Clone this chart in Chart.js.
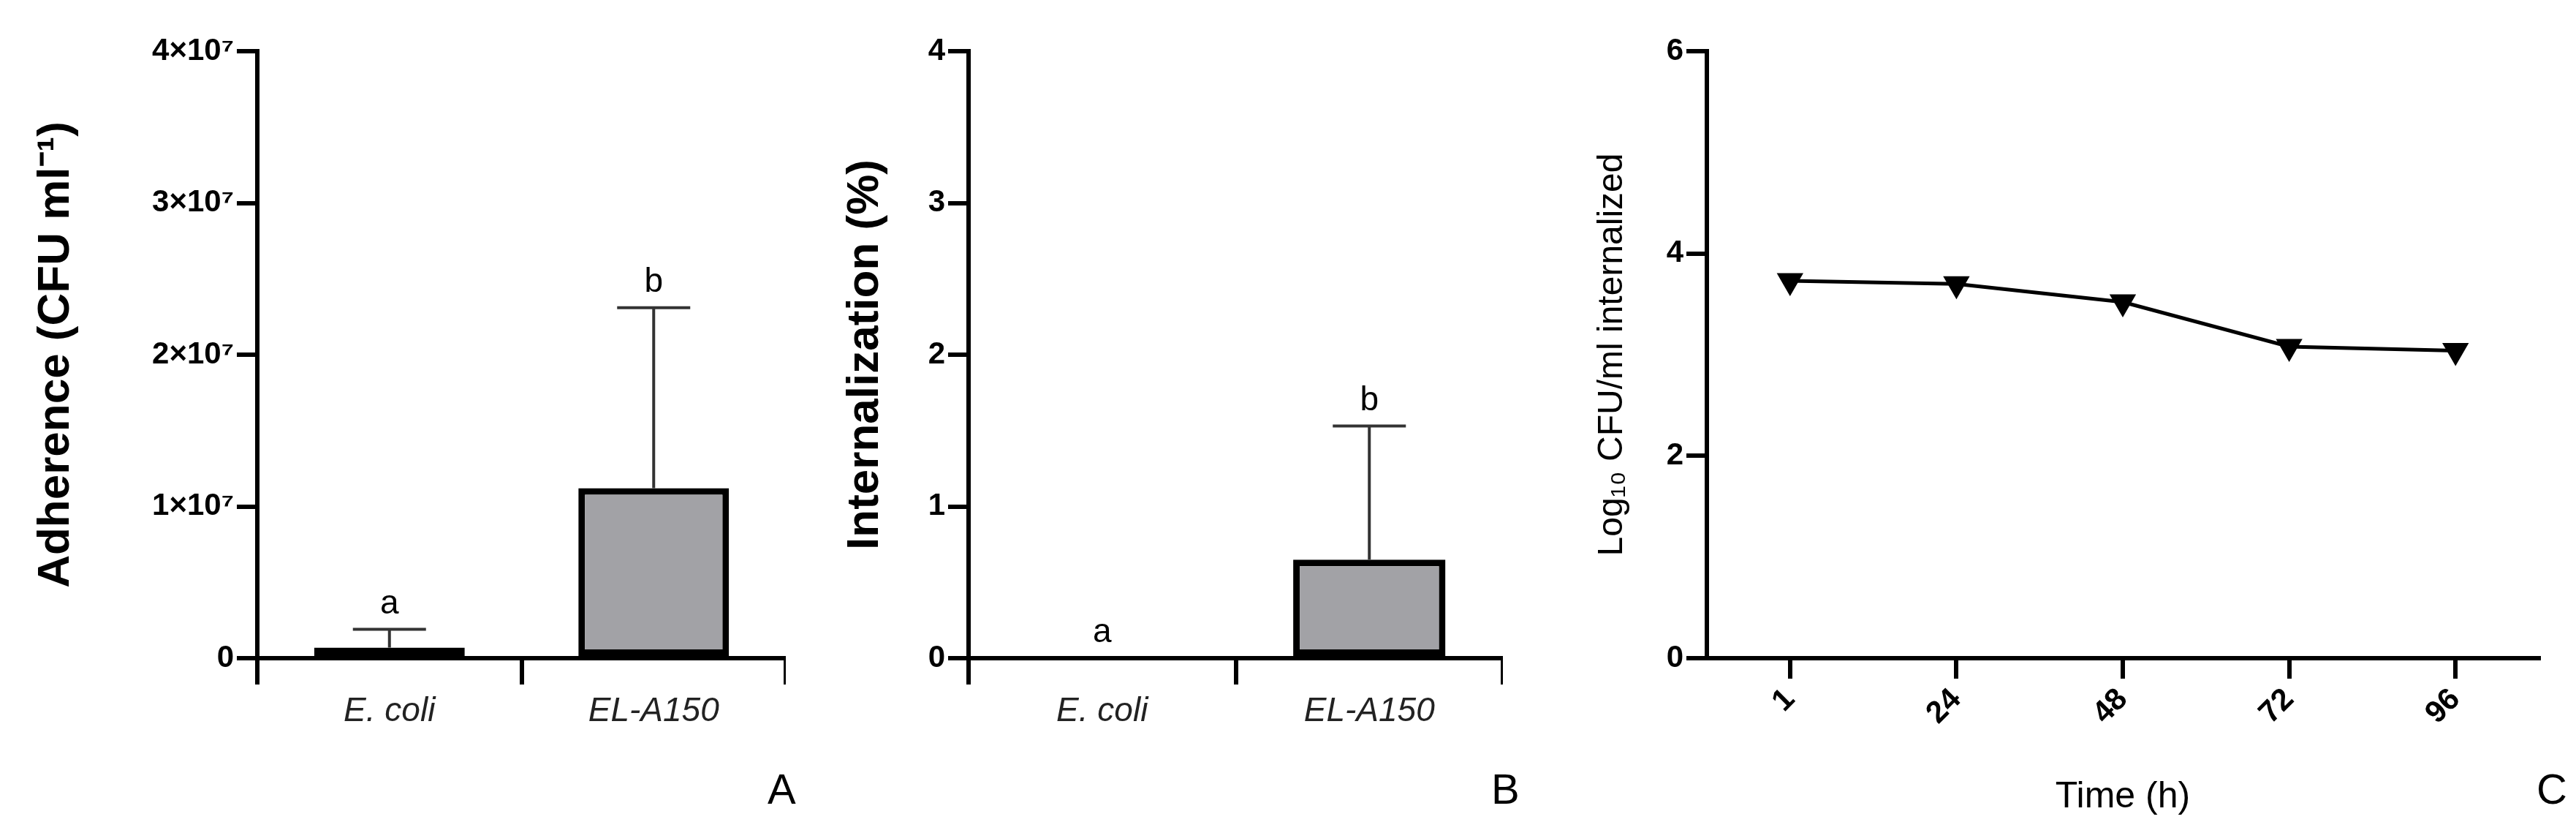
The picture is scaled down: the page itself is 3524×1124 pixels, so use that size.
<!DOCTYPE html>
<html>
<head>
<script src="https://cdn.jsdelivr.net/npm/chart.js@4"></script>
<style>
  body { margin: 0; background: #fff; width: 3524px; height: 1124px; position: relative; overflow: hidden; font-family: "Liberation Sans", Arial, sans-serif; }
  .panel { position: absolute; top: 0; height: 1124px; }
  .letter { position: absolute; font-size: 58px; top: 1045px; }
</style>
</head>
<body>
<div class="panel" style="left:40px;width:1035px"><canvas id="chartA"></canvas></div>
<div class="panel" style="left:1147px;width:909px"><canvas id="chartB"></canvas></div>
<div class="panel" style="left:2177px;width:1317px"><canvas id="chartC"></canvas></div>
<div class="letter" style="left:1050px">A</div>
<div class="letter" style="left:2040px">B</div>
<div class="letter" style="left:3470px">C</div>
<script>
// data
const strains = ["E. coli", "EL-A150"];
const adherence = [700000, 11200000];
const adherenceErr = [1200000, 11900000];
const adherenceTicks = ["0", "1×10⁷", "2×10⁷", "3×10⁷", "4×10⁷"];
const internalization = [0, 0.65];
const internalizationErr = [0, 0.88];
const groupLetters = ["a", "b"];
const hours = ["1", "24", "48", "72", "96"];
const logCfu = [3.73, 3.70, 3.52, 3.08, 3.04];

Chart.defaults.font.family = '"Liberation Sans", Arial, sans-serif';
Chart.defaults.color = "#000";
Chart.defaults.animation = false;
Chart.defaults.plugins.legend.display = false;
Chart.defaults.plugins.tooltip.enabled = false;

const errorBars = {
  id: "errorBars",
  afterDatasetsDraw(chart, args, opts) {
    const ctx = chart.ctx;
    const meta = chart.getDatasetMeta(0);
    const y = chart.scales.y;
    ctx.save();
    meta.data.forEach((bar, i) => {
      const v = chart.data.datasets[0].data[i];
      const top = y.getPixelForValue(v + opts.err[i]);
      const base = y.getPixelForValue(v);
      if (opts.err[i] > 0) {
        ctx.strokeStyle = "#333";
        ctx.lineWidth = 4;
        ctx.beginPath();
        ctx.moveTo(bar.x, base);
        ctx.lineTo(bar.x, top);
        ctx.moveTo(bar.x - opts.cap, top);
        ctx.lineTo(bar.x + opts.cap, top);
        ctx.stroke();
      }
      ctx.fillStyle = "#000";
      ctx.font = "46px 'Liberation Sans', Arial";
      ctx.textAlign = "center";
      ctx.fillText(opts.letters[i], bar.x, top - 22);
    });
    ctx.restore();
  }
};

function barChart(id, values, err, yMax, yTitle, tickFn, yWidth, cap) {
  return new Chart(document.getElementById(id), {
    type: "bar",
    data: {
      labels: strains,
      datasets: [{
        data: values,
        backgroundColor: ["#000", "#a2a2a6"],
        borderColor: "#000",
        borderWidth: 9,
        borderSkipped: false,
        categoryPercentage: 0.6,
        barPercentage: 0.95
      }]
    },
    options: {
      responsive: true,
      maintainAspectRatio: false,
      layout: { padding: { top: 70, right: 0 } },
      scales: {
        x: {
          afterFit: (s) => { s.height = 224; },
          border: { color: "#000", width: 6 },
          grid: { drawOnChartArea: false, color: "#000", lineWidth: 6, tickLength: 36 },
          ticks: { font: { size: 46, style: "italic" }, color: "#222", padding: 10 }
        },
        y: {
          min: 0, max: yMax,
          afterFit: (s) => { s.width = yWidth; },
          border: { color: "#000", width: 6 },
          grid: { drawOnChartArea: false, color: "#000", lineWidth: 6, tickLength: 28 },
          ticks: { stepSize: yMax / 4, font: { size: 42, weight: "bold" }, callback: tickFn, padding: 4 },
          title: { display: true, text: yTitle, font: { size: 62, weight: "bold" }, padding: 0 }
        }
      },
      plugins: { errorBars: { err: err, letters: groupLetters, cap: cap } }
    },
    plugins: [errorBars]
  });
}

barChart("chartA", adherence, adherenceErr, 40000000, "Adherence (CFU ml⁻¹)",
  (v, i) => adherenceTicks[i], 312, 50);
barChart("chartB", internalization, internalizationErr, 4, "Internalization (%)",
  (v) => v, 178, 50);

new Chart(document.getElementById("chartC"), {
  type: "line",
  data: {
    labels: hours,
    datasets: [{
      data: logCfu,
      borderColor: "#000",
      borderWidth: 5,
      backgroundColor: "#000",
      pointStyle: "triangle",
      rotation: 180,
      pointRadius: 16,
      tension: 0
    }]
  },
  options: {
    responsive: true,
    maintainAspectRatio: false,
    layout: { padding: { top: 70, right: 0 } },
    scales: {
      x: {
        offset: true,
        afterFit: (s) => { s.height = 224; },
        border: { color: "#000", width: 6 },
        grid: { drawOnChartArea: false, color: "#000", lineWidth: 6, tickLength: 28, offset: false },
        ticks: { font: { size: 42, weight: "bold" }, minRotation: 45, maxRotation: 45, padding: 4 },
        title: { display: true, text: "Time (h)", font: { size: 50 }, padding: { top: 10 } }
      },
      y: {
        min: 0, max: 6,
        afterFit: (s) => { s.width = 158; },
        border: { color: "#000", width: 6 },
        grid: { drawOnChartArea: false, color: "#000", lineWidth: 6, tickLength: 28 },
        ticks: { stepSize: 2, font: { size: 42, weight: "bold" }, padding: 4 },
        title: { display: true, text: "Log₁₀ CFU/ml internalized", font: { size: 48 }, padding: 0 }
      }
    }
  }
});
</script>
</body>
</html>
